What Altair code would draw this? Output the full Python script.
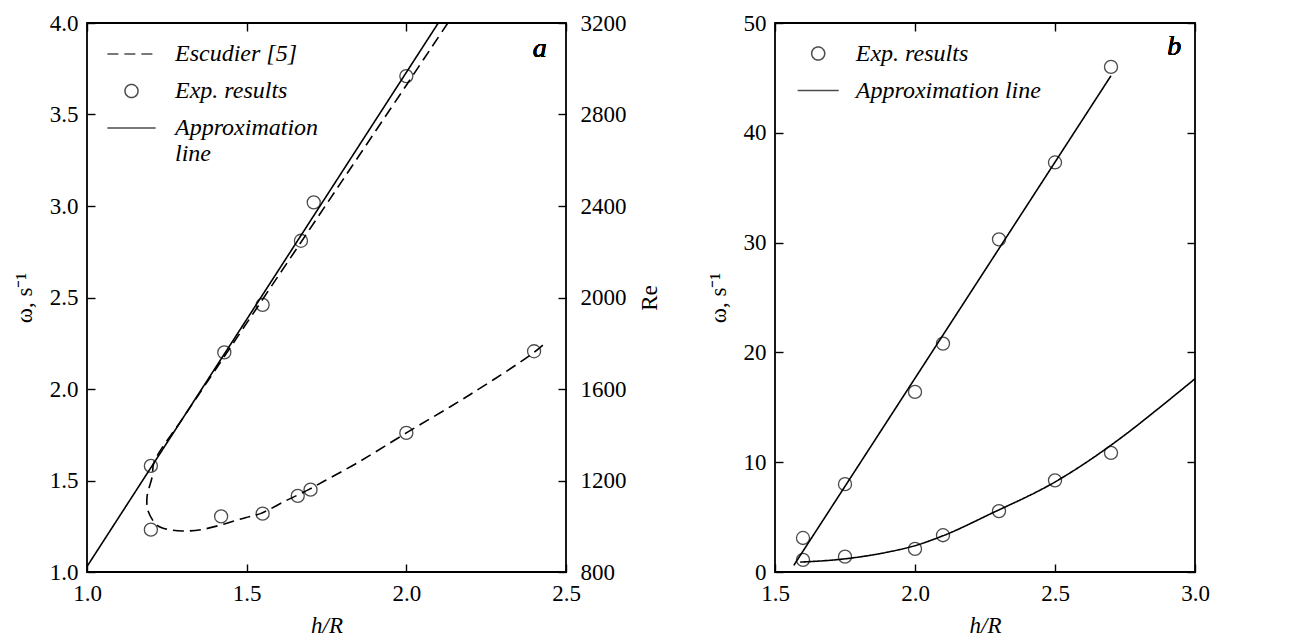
import altair as alt
import pandas as pd

FONT = "Liberation Serif"

# ---------------- Panel a ----------------
a_exp_x_upper = [1.20, 1.43, 1.55, 1.67, 1.71, 2.00]
a_exp_w_upper = [1.58, 2.20, 2.46, 2.81, 3.02, 3.71]
a_exp_x_lower = [1.20, 1.42, 1.55, 1.66, 1.70, 2.00, 2.40]
a_exp_re_lower = [985, 1043, 1055, 1133, 1160, 1408, 1765]
a_approx_x = [1.00, 2.10]
a_approx_w = [1.03, 4.00]
a_escudier_x = [2.13, 2.00, 1.80, 1.60, 1.40, 1.30, 1.21, 1.204, 1.188, 1.192, 1.22,
                1.256, 1.30, 1.36, 1.433, 1.496, 1.543, 1.621, 1.694, 1.746, 1.85,
                2.00, 2.20, 2.40, 2.44]
a_escudier_w = [4.00, 3.66, 3.14, 2.62, 2.10, 1.84, 1.60, 1.52, 1.41, 1.33, 1.255,
                1.232, 1.224, 1.232, 1.264, 1.297, 1.319, 1.388, 1.45, 1.50, 1.60,
                1.76, 1.97, 2.20, 2.26]
a_series = ["Escudier [5]", "Exp. results", "Approximation line"]

# ---------------- Panel b ----------------
b_exp_x = [1.60, 1.75, 2.00, 2.10, 2.30, 2.50, 2.70]
b_exp_w_upper = [3.1, 8.0, 16.4, 20.8, 30.3, 37.3, 46.0]
b_exp_w_lower = [1.1, 1.4, 2.1, 3.35, 5.55, 8.35, 10.85]
b_line_x = [1.567, 2.70]
b_line_w = [0.6, 45.2]
b_curve_x = [1.59, 1.75, 1.90, 2.00, 2.10, 2.27, 2.50, 2.74, 2.86, 3.00]
b_curve_w = [0.9, 1.2, 1.8, 2.4, 3.3, 5.3, 8.2, 12.3, 14.7, 17.6]
b_series = ["Exp. results", "Approximation line"]

LABEL = 23
TICK = 8


def axis(orient, values, fmt=None, title=None, labels=True, **kw):
    d = dict(orient=orient, values=values, labels=labels, ticks=True,
             tickSize=TICK, offset=-TICK, domain=False, grid=False,
             labelFlush=False, labelOverlap=False, tickColor="black",
             tickWidth=1.4, labelFont=FONT, labelFontSize=LABEL,
             labelColor="black", titleFont=FONT, titleFontSize=LABEL,
             titleColor="black", titleFontWeight="normal")
    if fmt is not None:
        d["format"] = fmt
    d["title"] = title
    d.update(kw)
    return alt.Axis(**d)


def legend(lx, ly, offset, expr=None):
    d = dict(title=None, orient="none", legendX=lx, legendY=ly, padding=0,
             labelFont=FONT, labelFontStyle="italic", labelFontSize=24,
             labelColor="black", symbolSize=170, symbolStrokeWidth=1.5,
             symbolStrokeColor="black", labelOffset=offset, rowPadding=13,
             labelLimit=400)
    if expr is not None:
        d["labelExpr"] = expr
    return alt.Legend(**d)


# ===== panel a =====
xa = alt.Scale(domain=[1.0, 2.5], nice=False, zero=False)
wa = alt.Scale(domain=[1.0, 4.0], nice=False, zero=False)
rea = alt.Scale(domain=[800, 3200], nice=False, zero=False)

LINE_A = "M-3.7,0L3.7,0"
shape_a = alt.Scale(domain=a_series, range=[LINE_A, "circle", LINE_A])
dash_a = alt.Scale(domain=a_series, range=[[11, 6], [1, 0], [1, 0]])
leg_a = legend(32.5, 19, 31.5,
               "datum.label == 'Approximation line' ? ['Approximation', 'line'] : datum.label")

df_a_lines = pd.DataFrame({
    "x": a_escudier_x + a_approx_x,
    "w": a_escudier_w + a_approx_w,
    "series": [a_series[0]] * len(a_escudier_x) + [a_series[2]] * len(a_approx_x),
    "ord": list(range(len(a_escudier_x))) + list(range(len(a_approx_x))),
})
df_a_up = pd.DataFrame({"x": a_exp_x_upper, "w": a_exp_w_upper,
                        "series": [a_series[1]] * len(a_exp_x_upper)})
df_a_low = pd.DataFrame({"x": a_exp_x_lower, "re": a_exp_re_lower})

xa_bottom = alt.X("x:Q", scale=xa,
                  axis=axis("bottom", [1.0, 1.5, 2.0, 2.5], ".1f", "h/R",
                            labelPadding=10, titleFontStyle="italic", titlePadding=9))
ya_left = alt.Y("w:Q", scale=wa,
                axis=axis("left", [1.0, 1.5, 2.0, 2.5, 3.0, 3.5, 4.0], ".1f", "ω, s⁻¹",
                          labelPadding=9, titlePadding=13))

a_lines = alt.Chart(df_a_lines).mark_line(
    interpolate="catmull-rom", color="black", strokeWidth=1.6
).encode(
    x=xa_bottom, y=ya_left,
    strokeDash=alt.StrokeDash("series:N", scale=dash_a, legend=leg_a),
    order="ord:Q",
)
a_pts = alt.Chart(df_a_up).mark_point(
    filled=False, size=170, color="black", strokeWidth=1.3
).encode(
    x=xa_bottom, y=ya_left,
    shape=alt.Shape("series:N", scale=shape_a, legend=leg_a),
)
a_txt = alt.Chart(df_a_up).mark_text(
    text="a", font=FONT, fontSize=28, fontStyle="italic", color="black"
).encode(x=alt.datum(2.418, scale=xa), y=alt.datum(3.86, scale=wa))

a_low = alt.Chart(df_a_low).mark_point(
    filled=False, size=170, color="black", strokeWidth=1.3, shape="circle"
).encode(
    x=alt.X("x:Q", scale=xa, axis=axis("top", [1.0, 1.5, 2.0, 2.5], labels=False)),
    y=alt.Y("re:Q", scale=rea,
            axis=axis("right", [800, 1200, 1600, 2000, 2400, 2800, 3200], "d", "Re",
                      labelPadding=14, titlePadding=35, titleAngle=270)),
)

panel_a = alt.layer(alt.layer(a_lines, a_pts, a_txt), a_low).resolve_scale(
    x="independent", y="independent"
).properties(width=479, height=549)

# ===== panel b =====
xb = alt.Scale(domain=[1.5, 3.0], nice=False, zero=False)
wb = alt.Scale(domain=[0, 50], nice=False, zero=False)

LINE_B = "M-3.15,0L3.15,0"
shape_b = alt.Scale(domain=b_series, range=["circle", LINE_B])
dash_b = alt.Scale(domain=b_series, range=[[1, 0], [1, 0]])
leg_b = legend(31.2, 18.5, 25.6)

df_b_lines = pd.DataFrame({
    "x": b_line_x + b_curve_x,
    "w": b_line_w + b_curve_w,
    "branch": ["upper"] * len(b_line_x) + ["lower"] * len(b_curve_x),
    "series": [b_series[1]] * (len(b_line_x) + len(b_curve_x)),
    "ord": list(range(len(b_line_x))) + list(range(len(b_curve_x))),
})
df_b_up = pd.DataFrame({"x": b_exp_x, "w": b_exp_w_upper,
                        "series": [b_series[0]] * len(b_exp_x)})
df_b_low = pd.DataFrame({"x": b_exp_x, "w": b_exp_w_lower})

xb_bottom = alt.X("x:Q", scale=xb,
                  axis=axis("bottom", [1.5, 2.0, 2.5, 3.0], ".1f", "h/R",
                            labelPadding=10, titleFontStyle="italic", titlePadding=9))
yb_left = alt.Y("w:Q", scale=wb,
                axis=axis("left", [0, 10, 20, 30, 40, 50], "d", "ω, s⁻¹",
                          labelPadding=9, titlePadding=13))

b_lines = alt.Chart(df_b_lines).mark_line(
    interpolate="monotone", color="black", strokeWidth=1.6
).encode(
    x=xb_bottom, y=yb_left,
    strokeDash=alt.StrokeDash("series:N", scale=dash_b, legend=leg_b),
    detail="branch:N",
    order="ord:Q",
)
b_pts = alt.Chart(df_b_up).mark_point(
    filled=False, size=170, color="black", strokeWidth=1.3
).encode(
    x=xb_bottom, y=yb_left,
    shape=alt.Shape("series:N", scale=shape_b, legend=leg_b),
)
b_txt = alt.Chart(df_b_up).mark_text(
    text="b", font=FONT, fontSize=28, fontStyle="italic", color="black"
).encode(x=alt.datum(2.926, scale=xb), y=alt.datum(47.8, scale=wb))

b_low = alt.Chart(df_b_low).mark_point(
    filled=False, size=170, color="black", strokeWidth=1.3, shape="circle"
).encode(
    x=alt.X("x:Q", scale=xb, axis=axis("top", [1.5, 2.0, 2.5, 3.0], labels=False)),
    y=alt.Y("w:Q", scale=wb, axis=axis("right", [0, 10, 20, 30, 40, 50], labels=False)),
)

panel_b = alt.layer(alt.layer(b_lines, b_pts, b_txt), b_low).resolve_scale(
    x="independent", y="independent"
).properties(width=420, height=549)

chart = alt.hconcat(panel_a, panel_b, spacing=44).resolve_scale(
    shape="independent", strokeDash="independent"
).properties(
    padding={"left": 4, "top": 3, "right": 5, "bottom": 0}
).configure_view(stroke="black", strokeWidth=1.8)

chart.save("out.html", embed_options={"renderer": "svg", "actions": False})
